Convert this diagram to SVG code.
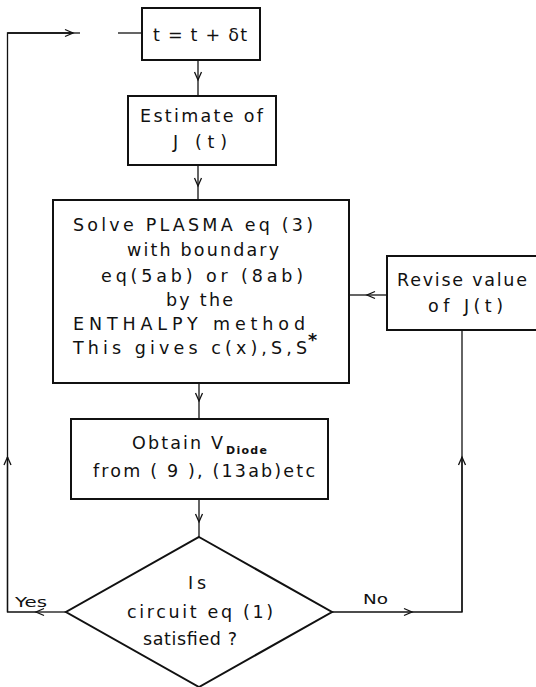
<svg xmlns="http://www.w3.org/2000/svg" width="536" height="687" viewBox="0 0 536 687">
<defs>
<style>
.box{fill:#fff;stroke:#111;stroke-width:2}
.ln{fill:none;stroke:#111;stroke-width:1.3}
.ar{fill:none;stroke:#111;stroke-width:1.3;marker-end:url(#chev)}
text{font-family:"DejaVu Sans","Liberation Sans",Arial,sans-serif;font-size:17.5px;fill:#111}
.lbl{font-size:14.5px}
.sub{font-size:11px;font-weight:bold}
</style>
<marker id="chev" markerUnits="userSpaceOnUse" markerWidth="12" markerHeight="12" refX="0" refY="0" viewBox="-10 -6 12 12" orient="auto" overflow="visible">
<path d="M-8,-3.5 L0,0 L-8,3.5" fill="none" stroke="#111" stroke-width="1.3"/>
</marker>
</defs>
<rect width="536" height="687" fill="#fff"/>
<g id="connectors">
<path class="ar" d="M198,60 V80"/><path class="ln" d="M198,80 V96"/>
<path class="ar" d="M198,165 V186"/><path class="ln" d="M198,186 V200"/>
<path class="ar" d="M199,383 V401"/><path class="ln" d="M199,401 V419"/>
<path class="ar" d="M199,499 V522"/><path class="ln" d="M199,522 V537"/>
<path class="ar" d="M66,612 H36"/><path class="ln" d="M36,612 H7.5 V457"/>
<path class="ar" d="M7.5,612 V457"/><path class="ln" d="M7.5,457 V33 H73"/>
<path class="ar" d="M7.5,33 H73"/><path class="ln" d="M73,33 H80"/>
<path class="ln" d="M118,33 H142"/>
<path class="ar" d="M332,612 H412"/><path class="ln" d="M412,612 H462 V457"/>
<path class="ar" d="M462,612 V457"/><path class="ln" d="M462,457 V330"/>
<path class="ar" d="M387,295 H367"/><path class="ln" d="M367,295 H349"/>
<text class="lbl" x="15" y="607" textLength="32" lengthAdjust="spacingAndGlyphs">Yes</text>
<text class="lbl" x="363" y="604" textLength="25" lengthAdjust="spacingAndGlyphs">No</text>
</g>
<g id="step">
<rect class="box" x="142" y="8" width="118" height="52"/>
<text x="153" y="41" textLength="94" lengthAdjust="spacing">t = t + δt</text>
</g>
<g id="estimate">
<rect class="box" x="128" y="96" width="148" height="69"/>
<text x="140" y="122" textLength="123" lengthAdjust="spacing">Estimate of</text>
<text x="173" y="148" textLength="54" lengthAdjust="spacing">J (t)</text>
</g>
<g id="solve">
<rect class="box" x="53" y="200" width="296" height="183"/>
<text x="73" y="231" textLength="240" lengthAdjust="spacing">Solve PLASMA eq (3)</text>
<text x="127" y="256" textLength="152" lengthAdjust="spacing">with boundary</text>
<text x="101" y="282" textLength="202" lengthAdjust="spacing">eq(5ab) or (8ab)</text>
<text x="166" y="306" textLength="67" lengthAdjust="spacing">by the</text>
<text x="73" y="330" textLength="232" lengthAdjust="spacing">ENTHALPY method</text>
<text x="73" y="354" textLength="234" lengthAdjust="spacing">This gives c(x),S,S</text>
<text x="308" y="346" font-size="12" font-weight="bold">*</text>
</g>
<g id="revise">
<rect class="box" x="387" y="256" width="152" height="74"/>
<text x="397" y="286" textLength="130" lengthAdjust="spacing">Revise value</text>
<text x="428" y="312" textLength="75" lengthAdjust="spacing">of J(t)</text>
</g>
<g id="obtain">
<rect class="box" x="71" y="419" width="257" height="80"/>
<text x="132" y="449" textLength="91" lengthAdjust="spacing">Obtain V</text>
<text class="sub" x="226" y="454" textLength="41" lengthAdjust="spacing">Diode</text>
<text x="93" y="477" textLength="222" lengthAdjust="spacing">from ( 9 ), (13ab)etc</text>
</g>
<g id="decision">
<polygon class="box" points="199,537 332,612 199,687 66,612"/>
<text x="188" y="589" textLength="18" lengthAdjust="spacing">Is</text>
<text x="127" y="618" textLength="146" lengthAdjust="spacing">circuit eq (1)</text>
<text x="143" y="645" textLength="94" lengthAdjust="spacing">satisfied ?</text>
</g>
</svg>
